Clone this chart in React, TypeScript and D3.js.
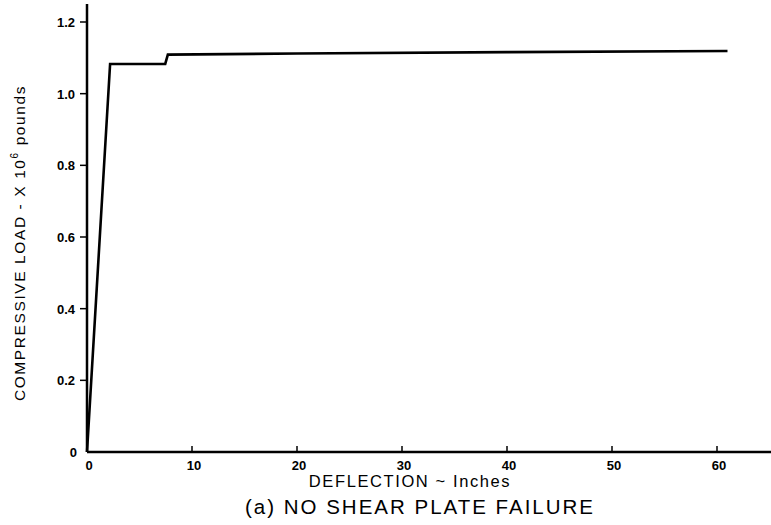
import { useEffect, useRef } from "react";
import * as d3 from "d3";

// deflection (inches) vs compressive load (x 10^6 lb)
const deflection = [0, 2.2, 7.45, 7.7, 20, 40, 61];
const load = [0, 1.083, 1.083, 1.109, 1.112, 1.116, 1.119];
const xTicks = [0, 10, 20, 30, 40, 50, 60];
const yTicks = [0, 0.2, 0.4, 0.6, 0.8, 1.0, 1.2];

const W = 771;
const H = 525;

export default function App() {
  const svgRef = useRef<SVGSVGElement | null>(null);

  useEffect(() => {
    const svgEl = svgRef.current;
    if (!svgEl) return;
    const svg = d3.select(svgEl);
    svg.selectAll("*").remove();

    const x0 = 87;
    const y0 = 452;
    const x = d3.scaleLinear().domain([0, 60]).range([x0, 717]);
    const y = d3.scaleLinear().domain([0, 1.2]).range([y0, 22]);
    const font = "'Liberation Sans', Arial, sans-serif";

    // axes lines
    svg.append("line")
      .attr("x1", x0).attr("x2", x0)
      .attr("y1", y(1.25)).attr("y2", y0)
      .attr("stroke", "#000").attr("stroke-width", 2.5);
    svg.append("line")
      .attr("x1", x0).attr("x2", x(65.2))
      .attr("y1", y0).attr("y2", y0)
      .attr("stroke", "#000").attr("stroke-width", 2.5);

    // y ticks
    const yt = svg.append("g");
    yt.selectAll("line").data(yTicks.slice(1)).enter().append("line")
      .attr("x1", x0 - 7).attr("x2", x0)
      .attr("y1", (d) => y(d)).attr("y2", (d) => y(d))
      .attr("stroke", "#000").attr("stroke-width", 1.5);
    yt.selectAll("text").data(yTicks).enter().append("text")
      .attr("x", (d) => (d === 0 ? 77 : 75))
      .attr("y", (d) => y(d) + 5)
      .attr("text-anchor", "end")
      .attr("font-family", font).attr("font-weight", "bold")
      .attr("font-size", 13)
      .text((d) => (d === 0 ? "0" : d.toFixed(1)));

    // x ticks
    const xt = svg.append("g");
    xt.selectAll("line").data(xTicks.slice(1)).enter().append("line")
      .attr("x1", (d) => x(d)).attr("x2", (d) => x(d))
      .attr("y1", y0 - 6).attr("y2", y0)
      .attr("stroke", "#000").attr("stroke-width", 1.5);
    xt.selectAll("text").data(xTicks).enter().append("text")
      .attr("x", (d) => x(d) + 2)
      .attr("y", y0 + 18)
      .attr("text-anchor", "middle")
      .attr("font-family", font).attr("font-weight", "bold")
      .attr("font-size", 13)
      .text((d) => String(d));

    // curve
    const pts = deflection.map((d, i) => [d, load[i]] as [number, number]);
    const line = d3.line<[number, number]>()
      .x((p) => x(p[0]))
      .y((p) => y(p[1]));
    svg.append("path")
      .datum(pts)
      .attr("fill", "none")
      .attr("stroke", "#000")
      .attr("stroke-width", 2.6)
      .attr("d", line);

    // axis titles
    const yl = svg.append("text")
      .attr("transform", `translate(25,243) rotate(-90)`)
      .attr("text-anchor", "middle")
      .attr("font-family", font)
      .attr("font-size", 15.5)
      .attr("letter-spacing", 1.6);
    yl.append("tspan").text("COMPRESSIVE LOAD - X 10");
    yl.append("tspan").attr("font-size", 10).attr("dy", -7).text("6");
    yl.append("tspan").attr("dy", 7).text(" pounds");

    svg.append("text")
      .attr("x", 410)
      .attr("y", 487)
      .attr("text-anchor", "middle")
      .attr("font-family", font)
      .attr("font-size", 16.5)
      .attr("letter-spacing", 1.6)
      .text("DEFLECTION ~ Inches");

    svg.append("text")
      .attr("x", 420)
      .attr("y", 514)
      .attr("text-anchor", "middle")
      .attr("font-family", font)
      .attr("font-size", 20.5)
      .attr("letter-spacing", 2)
      .text("(a) NO SHEAR PLATE FAILURE");
  }, []);

  return (
    <svg
      ref={svgRef}
      width={W}
      height={H}
      style={{ position: "absolute", left: 0, top: 0, background: "#fff" }}
    />
  );
}
